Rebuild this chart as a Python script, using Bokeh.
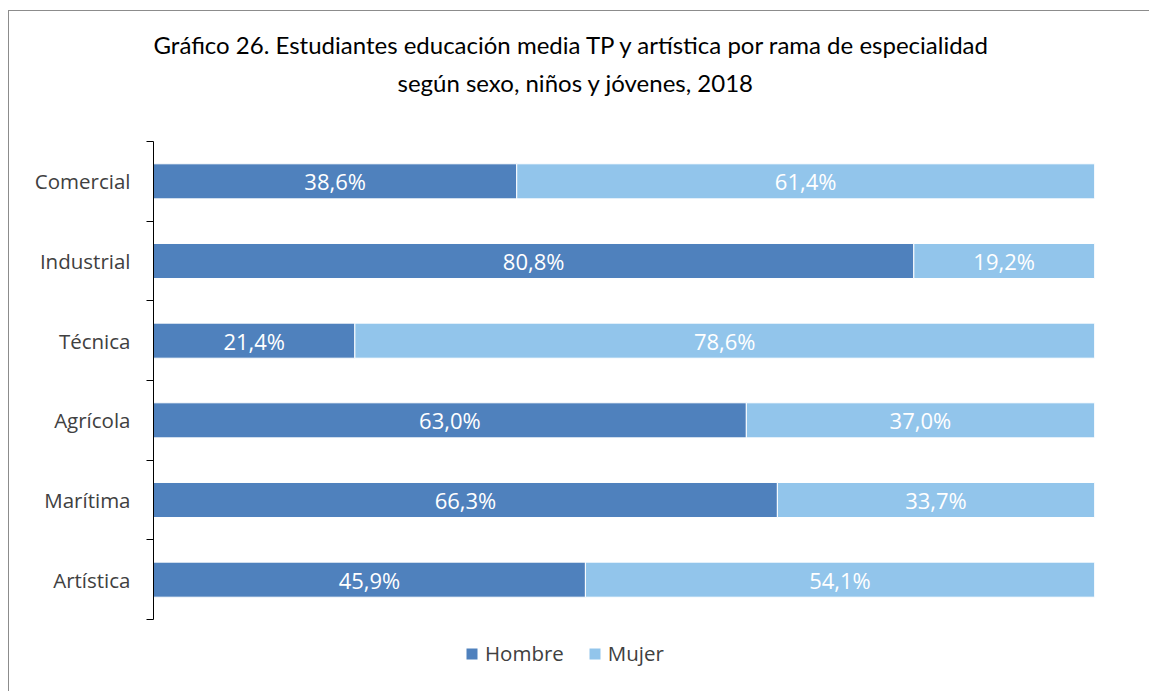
from bokeh.plotting import figure
from bokeh.models import ColumnDataSource, FixedTicker, Title, Legend, LegendItem, Range1d
from bokeh.core.properties import value
from bokeh.embed import file_html
from bokeh.resources import INLINE

categories = ["Comercial", "Industrial", "Técnica", "Agrícola", "Marítima", "Artística"]
hombre = [38.6, 80.8, 21.4, 63.0, 66.3, 45.9]
mujer = [61.4, 19.2, 78.6, 37.0, 33.7, 54.1]
series = ["Hombre", "Mujer"]
colors = ["#4F81BD", "#92C5EB"]

title_line1 = "Gráfico 26. Estudiantes educación media TP y artística por rama de especialidad"
title_line2 = "según sexo, niños y jóvenes, 2018"

n = len(categories)
ypos = [n - i - 0.5 for i in range(n)]


def fmt(v):
    return f"{v:.1f}".replace(".", ",") + "%"


src = ColumnDataSource(dict(
    y=ypos,
    Hombre=hombre,
    Mujer=mujer,
    hx=[h / 2 for h in hombre],
    mx=[h + m / 2 for h, m in zip(hombre, mujer)],
    htxt=[fmt(v) for v in hombre],
    mtxt=[fmt(v) for v in mujer],
))

W, H = 1141, 681
frame_px = 478.0          # height of the category band in pixels
below_px = 73.0           # space under the category band (legend lives here)
unit = frame_px / n
y_start = -below_px / unit

p = figure(width=W, height=H, x_range=Range1d(0, 100), y_range=Range1d(y_start, n),
           output_backend="svg", toolbar_location=None,
           min_border_left=144, min_border_right=56, min_border_top=130, min_border_bottom=0)
p.title.visible = False
p.outline_line_color = None
p.xgrid.visible = False
p.ygrid.visible = False
p.xaxis.visible = False
p.styles = {"border-top": "1px solid #8c8c8c", "border-left": "1px solid #8c8c8c",
            "margin-left": "8px", "margin-top": "10px"}

rs = p.hbar_stack(series, y="y", height=0.44, color=colors, source=src,
                  line_color="white", line_width=1)

label_font = value("Open Sans")
p.text(x="hx", y="y", text="htxt", source=src, text_color="white", text_font=label_font,
       text_font_size="22px", text_align="center", text_baseline="middle")
p.text(x="mx", y="y", text="mtxt", source=src, text_color="white", text_font=label_font,
       text_font_size="22px", text_align="center", text_baseline="middle")

ax = p.yaxis[0]
ax.bounds = (0, n)
ax.ticker = FixedTicker(ticks=ypos, minor_ticks=list(range(n + 1)))
ax.major_label_overrides = {y: c for y, c in zip(ypos, categories)}
ax.major_tick_line_color = None
ax.major_tick_out = 0
ax.major_tick_in = 0
ax.minor_tick_out = 7
ax.minor_tick_in = 0
ax.minor_tick_line_color = "black"
ax.axis_line_color = "black"
ax.major_label_standoff = 16
ax.major_label_text_font = "Open Sans"
ax.major_label_text_font_size = "20.5px"
ax.major_label_text_color = "#404040"

spacer = Title(text=" ", standoff=28, text_font_size="10px")
t2 = Title(text=title_line2, align="left", offset=244, standoff=7,
           text_font="Lato", text_font_size="24px", text_font_style="normal", text_color="black")
t1 = Title(text=title_line1, align="left", offset=0, standoff=7, text_font="Lato",
           text_font_size="24px", text_font_style="normal", text_color="black")
p.add_layout(spacer, "above")
p.add_layout(t2, "above")
p.add_layout(t1, "above")

legend = Legend(items=[LegendItem(label=s, renderers=[r]) for s, r in zip(series, rs)],
                orientation="horizontal", location=(311, 25), padding=0, margin=0,
                glyph_width=15, glyph_height=15, label_standoff=6, spacing=23,
                label_text_font="Open Sans", label_text_font_size="20.5px",
                label_text_color="#404040", border_line_color=None, background_fill_alpha=0)
p.add_layout(legend)

open("out.html", "w").write(file_html(p, INLINE))
